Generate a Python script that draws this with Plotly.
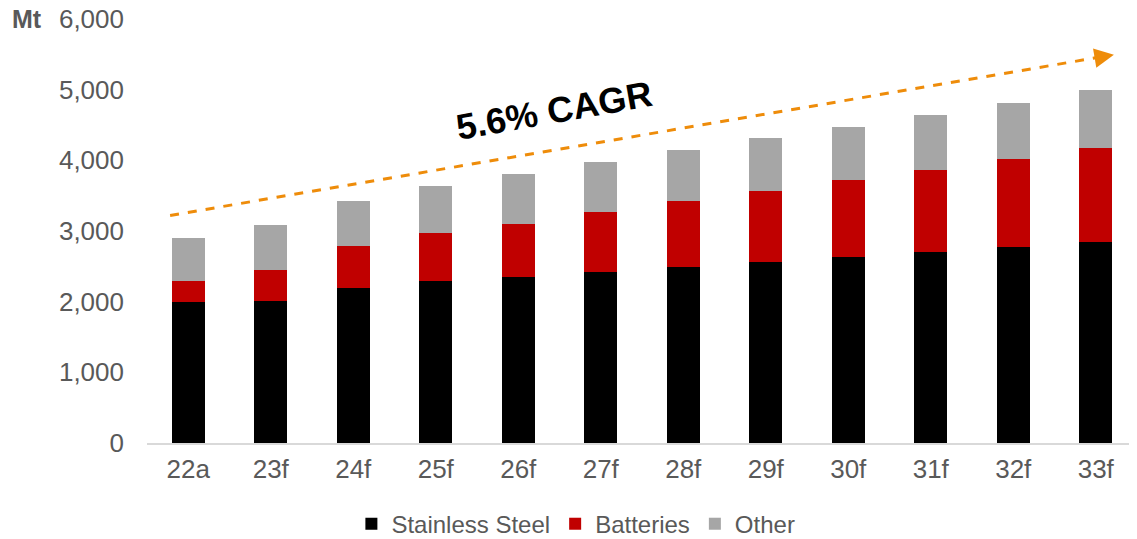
import plotly.graph_objects as go

categories = ["22a", "23f", "24f", "25f", "26f", "27f", "28f", "29f", "30f", "31f", "32f", "33f"]
stainless = [2000, 2010, 2190, 2290, 2350, 2425, 2490, 2560, 2630, 2700, 2775, 2845]
batteries = [290, 445, 595, 675, 755, 840, 930, 1005, 1085, 1160, 1240, 1325]
other = [605, 625, 640, 665, 695, 705, 720, 745, 760, 785, 800, 820]
y_ticks = [0, 1000, 2000, 3000, 4000, 5000, 6000]

arrow_start = (-0.22, 3220)
arrow_end = (11.22, 5494)

FONT = "Liberation Sans, Arial, sans-serif"
GREY_TXT = "#595959"
ORANGE = "#EE8C0A"

xs = list(range(len(categories)))

fig = go.Figure()
fig.add_bar(x=xs, y=stainless, name="Stainless Steel",
            marker=dict(color="#000000", line=dict(width=0)))
fig.add_bar(x=xs, y=batteries, name="Batteries",
            marker=dict(color="#C00000", line=dict(width=0)))
fig.add_bar(x=xs, y=other, name="Other",
            marker=dict(color="#A6A6A6", line=dict(width=0)))

slope = (arrow_end[1] - arrow_start[1]) / (arrow_end[0] - arrow_start[0])
# dashed trend line
fig.add_shape(type="line", xref="x", yref="y",
              x0=arrow_start[0], y0=arrow_start[1],
              x1=arrow_end[0] - 0.15, y1=arrow_end[1] - 0.15 * slope,
              line=dict(color=ORANGE, width=3, dash="dash"))
# arrow head
fig.add_annotation(x=arrow_end[0], y=arrow_end[1], xref="x", yref="y",
                   ax=arrow_end[0] - 0.25, ay=arrow_end[1] - 0.25 * slope,
                   axref="x", ayref="y", text="", showarrow=True,
                   arrowhead=2, arrowsize=1.3, arrowwidth=3, arrowcolor=ORANGE)

fig.add_annotation(x=4.43, y=4710, xref="x", yref="y", text="<b>5.6% CAGR</b>",
                   showarrow=False, textangle=-10,
                   font=dict(family=FONT, size=36, color="#000000"))

fig.add_annotation(x=-0.138, y=1.0, xref="paper", yref="paper", text="<b>Mt</b>",
                   showarrow=False, xanchor="left", yanchor="middle",
                   font=dict(family=FONT, size=25, color=GREY_TXT))

fig.update_layout(
    barmode="stack",
    bargap=0.6,
    width=1129, height=531,
    margin=dict(l=139, r=0, t=11, b=96, autoexpand=False),
    paper_bgcolor="white", plot_bgcolor="white",
    font=dict(family=FONT, color=GREY_TXT, size=26),
    showlegend=True,
    legend=dict(orientation="h", xref="container", yref="container",
                x=0.503, y=0.028, xanchor="center", yanchor="middle",
                font=dict(family=FONT, size=24, color=GREY_TXT),
                traceorder="normal", itemwidth=30),
)
fig.update_xaxes(tickmode="array", tickvals=xs, ticktext=categories,
                 range=[-0.5, len(categories) - 0.5], automargin=False,
                 showline=True, linecolor="#D9D9D9", linewidth=2, ticks="",
                 showgrid=False, zeroline=False, ticklabelstandoff=2,
                 ticklabeloverflow="allow",
                 tickfont=dict(family=FONT, size=26, color=GREY_TXT))
fig.update_yaxes(range=[0, 6000], tickmode="array", tickvals=y_ticks,
                 ticktext=[f"{v:,}" for v in y_ticks], automargin=False,
                 showgrid=False, zeroline=False, showline=False, ticks="",
                 ticklabelstandoff=22, ticklabeloverflow="allow",
                 tickfont=dict(family=FONT, size=26, color=GREY_TXT))

fig.write_html("out.html")
